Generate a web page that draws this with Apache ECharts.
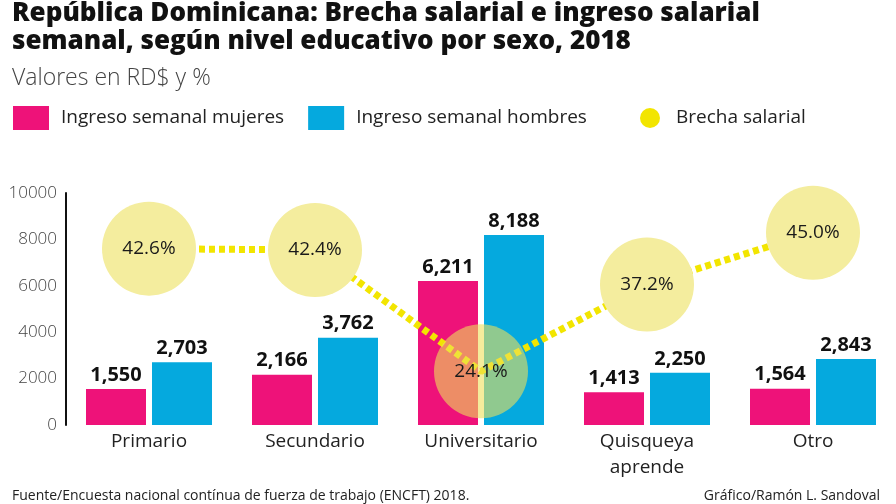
<!DOCTYPE html>
<html>
<head>
<meta charset="utf-8">
<script src="https://cdn.jsdelivr.net/npm/echarts@6/dist/echarts.min.js"></script>
<style>
  html, body { margin: 0; padding: 0; background: #fff; }
  #chart { width: 896px; height: 504px; }
</style>
</head>
<body>
<div id="chart"></div>
<script>
const categories = ['Primario', 'Secundario', 'Universitario', 'Quisqueya\naprende', 'Otro'];
const mujeres = [1550, 2166, 6211, 1413, 1564];
const hombres = [2703, 3762, 8188, 2250, 2843];
const brecha = [42.6, 42.4, 24.1, 37.2, 45.0];
const yTicks = [0, 2000, 4000, 6000, 8000, 10000];

const PINK = '#ee1279';
const BLUE = '#05a9de';
const YELLOW = '#f2e500';
const BODY_FONT = 'Open Sans';

const chart = echarts.init(document.getElementById('chart'));

const barLabel = {
  show: true,
  position: 'top',
  distance: 4,
  color: '#111',
  fontFamily: BODY_FONT,
  fontWeight: 'bold',
  fontSize: 20,
  formatter: (p) => p.value.toLocaleString('en-US')
};

// bubbles are solid, except where they sit over the tall bars
const bubbleData = brecha.map((v, i) => ({
  value: v,
  itemStyle: { color: mujeres[i] > 5000 ? 'rgba(237, 224, 90, 0.6)' : '#f4ed9e' }
}));

chart.setOption({
  animation: false,
  title: [
    {
      text: 'República Dominicana: Brecha salarial e ingreso salarial\nsemanal, según nivel educativo por sexo, 2018',
      left: 12,
      top: 0,
      padding: 0,
      textStyle: {
        fontFamily: BODY_FONT,
        fontWeight: 800,
        fontSize: 26,
        lineHeight: 28,
        color: '#111'
      }
    },
    {
      text: 'Valores en RD$ y %',
      left: 12,
      top: 67,
      padding: 0,
      textStyle: { fontFamily: BODY_FONT, fontWeight: 300, fontSize: 23, color: '#444' }
    },
    {
      text: 'Fuente/Encuesta nacional contínua de fuerza de trabajo (ENCFT) 2018.',
      left: 12,
      top: 489,
      padding: 0,
      textStyle: { fontFamily: BODY_FONT, fontWeight: 'normal', fontSize: 14, color: '#222' }
    },
    {
      text: 'Gráfico/Ramón L. Sandoval',
      right: 16,
      top: 489,
      padding: 0,
      textStyle: { fontFamily: BODY_FONT, fontWeight: 'normal', fontSize: 14, color: '#222' }
    }
  ],
  legend: [
    {
      left: 13,
      top: 106,
      padding: 0,
      itemWidth: 36,
      itemHeight: 24,
      itemGap: 24,
      icon: 'rect',
      data: ['Ingreso semanal mujeres', 'Ingreso semanal hombres'],
      textStyle: { fontFamily: BODY_FONT, fontSize: 19, color: '#222', padding: [0, 0, 0, 7] }
    },
    {
      left: 640,
      top: 108,
      padding: 0,
      itemWidth: 20,
      itemHeight: 20,
      data: [{ name: 'Brecha salarial', icon: 'circle', itemStyle: { color: YELLOW, opacity: 1 } }],
      textStyle: { fontFamily: BODY_FONT, fontSize: 19, color: '#222', padding: [0, 0, 0, 11] }
    }
  ],
  grid: { left: 66, right: -1, top: 193, bottom: 79 },
  xAxis: {
    type: 'category',
    data: categories,
    axisLine: { show: false },
    axisTick: { show: false },
    axisLabel: {
      margin: 4,
      color: '#222',
      fontFamily: BODY_FONT,
      fontSize: 19,
      lineHeight: 26
    }
  },
  yAxis: [
    {
      type: 'value',
      min: yTicks[0],
      max: yTicks[yTicks.length - 1],
      interval: yTicks[1] - yTicks[0],
      splitLine: { show: false },
      axisTick: { show: false },
      axisLine: { show: true, lineStyle: { color: '#111', width: 2 } },
      axisLabel: {
        margin: 9,
        color: '#444',
        fontFamily: BODY_FONT,
        fontWeight: 300,
        fontSize: 17,
        formatter: (v) => String(v)
      }
    },
    {
      type: 'value',
      min: 16,
      max: 51,
      show: false
    }
  ],
  series: [
    {
      name: 'Ingreso semanal mujeres',
      type: 'bar',
      data: mujeres,
      barWidth: 60,
      barGap: '10%',
      itemStyle: { color: PINK },
      label: barLabel,
      z: 2
    },
    {
      name: 'Ingreso semanal hombres',
      type: 'bar',
      data: hombres,
      barWidth: 60,
      itemStyle: { color: BLUE },
      label: barLabel,
      z: 2
    },
    {
      name: 'Brecha salarial',
      type: 'line',
      yAxisIndex: 1,
      data: brecha,
      symbol: 'none',
      lineStyle: { color: YELLOW, width: 7, type: [6, 4] },
      itemStyle: { color: YELLOW },
      z: 3
    },
    {
      name: 'Brecha salarial',
      type: 'scatter',
      yAxisIndex: 1,
      data: bubbleData,
      symbolSize: 94,
      itemStyle: { opacity: 1 },
      label: {
        show: true,
        position: 'inside',
        color: '#1a1a1a',
        fontFamily: BODY_FONT,
        fontSize: 19,
        formatter: (p) => p.value.toFixed(1) + '%'
      },
      z: 4
    }
  ]
});
</script>
</body>
</html>
